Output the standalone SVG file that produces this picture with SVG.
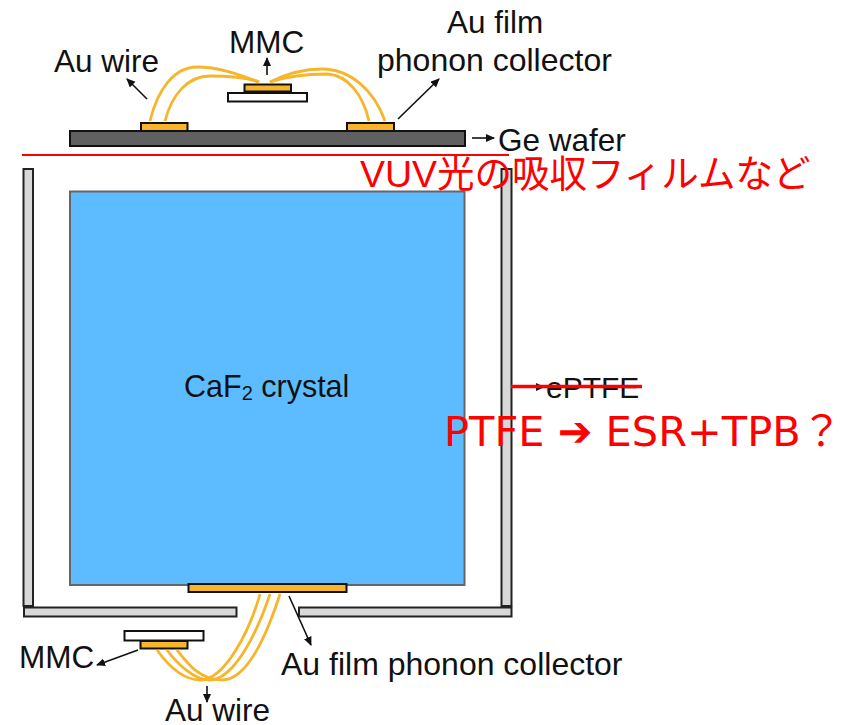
<svg xmlns="http://www.w3.org/2000/svg" width="841" height="725" viewBox="0 0 841 725">
<style>
.lb{font-family:"Liberation Sans",Arial,sans-serif;font-size:31.500px;fill:#111}
.gold{fill:#f7b52c;stroke:#111;stroke-width:2}
.wall{fill:#d8d8d8;stroke:#222;stroke-width:2}
.wire{fill:none;stroke:#f7b52c;stroke-width:2.800}
.ar{fill:none;stroke:#111;stroke-width:1.600;marker-end:url(#a)}
.red{fill:#ff0000}
</style>
<defs><marker id="a" markerUnits="userSpaceOnUse" markerWidth="10" markerHeight="10" refX="8" refY="4" orient="auto"><path d="M0 0L9 4L0 8Z" fill="#111"/></marker></defs>
<rect width="841" height="725" fill="#fff"/>
<g id="crystal"><rect x="70" y="191.500" width="394.500" height="393.500" fill="#5cbcff" stroke="#666" stroke-width="2"/><text class="lb" x="184" y="397" style="font-size:30.500px">CaF<tspan font-size="20" dy="3">2</tspan><tspan dy="-3"> crystal</tspan></text></g>
<g id="walls">
<rect class="wall" x="23.500" y="169" width="9.500" height="437"/>
<rect class="wall" x="501.500" y="169" width="10" height="437"/>
<rect class="wall" x="24" y="607.500" width="212.500" height="9"/>
<rect class="wall" x="299" y="607.500" width="212.500" height="9"/>
</g>
<g id="wafer"><rect x="70" y="131" width="395" height="15" fill="#606060" stroke="#111" stroke-width="2"/><text class="lb" x="498" y="151">Ge wafer</text></g>
<g id="top-pads">
<rect class="gold" x="141" y="123" width="46.500" height="8"/>
<rect class="gold" x="347" y="123" width="47" height="8"/>
</g>
<g id="top-mmc">
<rect class="gold" x="244.500" y="84.500" width="46.500" height="7"/>
<rect x="228" y="93" width="79" height="8.500" fill="#fff" stroke="#111" stroke-width="2"/>
<text class="lb" x="229" y="53">MMC</text>
</g>
<g id="bottom-film"><rect class="gold" x="188.500" y="584" width="158" height="8"/><text class="lb" x="281" y="675" style="font-size:32px">Au film phonon collector</text></g>
<g id="bottom-mmc">
<rect x="124.500" y="631" width="79" height="9.500" fill="#fff" stroke="#111" stroke-width="2"/>
<rect class="gold" x="140.500" y="641" width="47" height="7.500"/>
<text class="lb" x="19" y="668">MMC</text>
</g>
<g id="labels">
<text class="lb" x="54" y="72">Au wire</text>
<text class="lb" x="447" y="33">Au film</text>
<text class="lb" x="377" y="71" style="font-size:32px">phonon collector</text>
<text class="lb" x="165" y="721">Au wire</text>
<text class="lb" x="546" y="398" style="font-size:30px">ePTFE</text>
</g>
<g id="connectors">
<path class="wire" d="M150 121C158 88 175 67 197 67C220 67 240 75 259 82"/>
<path class="wire" d="M165 121C172 94 188 76 210 76C228 76 245 77 259 82"/>
<path class="wire" d="M270 82C288 73 305 69 322 69C350 69 374 90 385 121"/>
<path class="wire" d="M270 82C288 76 310 74 327 74C348 75 363 95 369 121"/>
<path class="wire" d="M157 650C170 668 185 680 200 680C225 680 250 630 260 594"/>
<path class="wire" d="M167 650C178 665 195 680 209 680C235 680 258 630 270 594"/>
<path class="wire" d="M177 650C188 664 200 680 222 680C250 680 270 625 280 594"/>
<path class="ar" d="M147 99L127 79"/>
<path class="ar" d="M267 75V58"/>
<path class="ar" d="M398 119L439 79"/>
<path class="ar" d="M472 138H494"/>
<path class="ar" d="M529 387H544"/>
<path class="ar" d="M289 596L311 645"/>
<path class="ar" d="M138 650L97 665"/>
<path class="ar" d="M207 686V702"/>
</g>
<g id="annotations">
<path d="M22 155H509" stroke="#ff0000" stroke-width="2" fill="none"/>
<path d="M511 386.500H642" stroke="#ff0000" stroke-width="3.500" fill="none"/>
<text class="red" x="360" y="187" style="font-family:'Liberation Sans','Noto Sans CJK JP',sans-serif;font-size:37.500px">VUV光の吸収フィルムなど</text>
<text class="red" x="444" y="446" style="font-family:'DejaVu Sans','Noto Sans CJK JP',sans-serif;font-size:41.500px">PTFE ➔ ESR+TPB？</text>
</g>
</svg>
